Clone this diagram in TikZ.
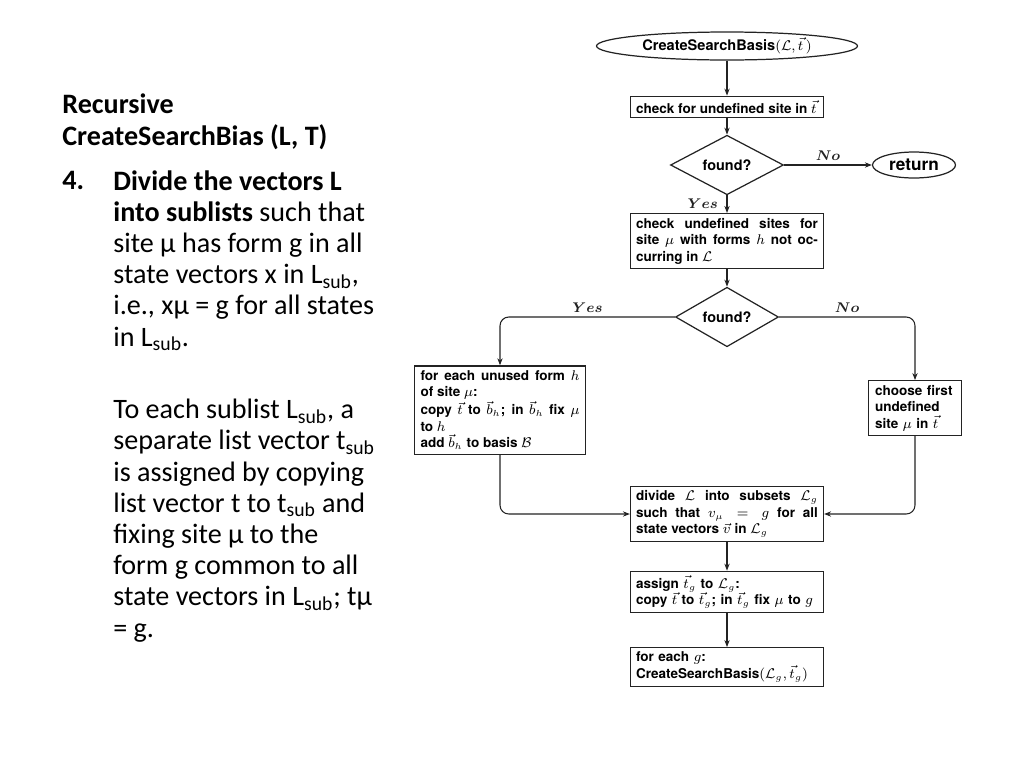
\documentclass[tikz,border=0pt]{standalone}
\usepackage{amsmath, amssymb}
\usepackage{bm}
\usepackage{fontspec}
\newfontfamily\slidefont{Carlito}
\newfontfamily\flowfont{TeX Gyre Heros}
\usepackage{tikz}
\usetikzlibrary{arrows.meta, positioning, shapes.geometric}
\usepackage{xcolor}
\definecolor{linegray}{RGB}{35,35,35}

\begin{document}
\begin{tikzpicture}[x=0.02cm, y=-0.02cm,
  box/.style={rectangle, draw=linegray, line width=0.7pt, text width=3.64cm,
              inner xsep=0.11cm, inner ysep=2.5pt, align=justify,
              font=\flowfont\bfseries\fontsize{7.7}{9.4}\selectfont},
  term/.style={ellipse, draw=linegray, line width=0.7pt, inner sep=0pt,
               font=\flowfont\bfseries\fontsize{8.3}{10}\selectfont},
  test/.style={diamond, draw=linegray, line width=0.7pt, inner sep=0pt,
               font=\flowfont\bfseries\fontsize{8.2}{10}\selectfont},
  arrow/.style={-{Stealth[length=4pt, width=3pt]}, linegray, line width=0.6pt},
  answer/.style={font=\fontsize{8.5}{10}\selectfont, inner sep=2pt},
  slide/.style={font=\slidefont\fontsize{16}{17.75}\selectfont,
                inner sep=0pt, align=left}
]
\useasboundingbox (0,0) rectangle (1024,768);

% left column: slide text (base anchor = last line)
\node[slide, anchor=base west] (title) at (62,145)
  {\bfseries Recursive\\\bfseries CreateSearchBias (L, T)};
\node[slide, anchor=base west] (num) at (62,189) {\bfseries 4.};
\node[slide, anchor=base west] (item) at (113,637)
  {\textbf{Divide the vectors L}\\
   \textbf{into sublists} such that\\
   site µ has form g in all\\
   state vectors x in L\textsubscript{sub},\\
   i.e., xµ = g for all states\\
   in L\textsubscript{sub}.\\[0.83cm]
   To each sublist L\textsubscript{sub}, a\\
   separate list vector t\textsubscript{sub}\\
   is assigned by copying\\
   list vector t to t\textsubscript{sub} and\\
   fixing site µ to the\\
   form g common to all\\
   state vectors in L\textsubscript{sub}; tµ\\
   = g.};

% main column of the flowchart
\node[term, minimum width=5.22cm, minimum height=0.56cm] (start) at (727,46)
  {CreateSearchBasis$(\mathcal{L},\vec{t}\,)$};
\node[box] (chk1) at (727,107) {check for undefined site in $\vec{t}$};
\node[test, minimum width=2.26cm, minimum height=0.70cm] (found1) at (727,165) {found?};
\node[term, minimum width=1.66cm, minimum height=0.52cm,
      font=\flowfont\bfseries\fontsize{9.8}{11}\selectfont] (ret) at (914,165) {return};
\node[box] (chk2) at (727,241)
  {check undefined sites for\linebreak site $\mu$ with forms $h$ not oc-\linebreak curring in $\mathcal{L}$};
\node[test, minimum width=2.06cm, minimum height=0.62cm] (found2) at (727,317) {found?};

% side branches
\node[box, text width=3.18cm, inner xsep=0.12cm] (each) at (500,410)
  {for each unused form $h$\linebreak of site $\mu$:\\
   copy $\vec{t}$ to $\vec{b}_h$; in $\vec{b}_h$ fix $\mu$\linebreak to $h$\\
   add $\vec{b}_h$ to basis $\mathcal{B}$};
\node[box, text width=1.6cm, inner xsep=0.13cm, align=left] (pick) at (915,408)
  {choose first\\undefined\\site $\mu$ in $\vec{t}$};

% lower part
\node[box] (split) at (727,514)
  {divide $\mathcal{L}$ into subsets $\mathcal{L}_g$\linebreak such that $v_\mu = g$ for all\linebreak state vectors $\vec{v}$ in $\mathcal{L}_g$};
\node[box, align=left] (assign) at (727,592)
  {assign $\vec{t}_g$ to $\mathcal{L}_g$:\\copy $\vec{t}$ to $\vec{t}_g$; in $\vec{t}_g$ fix $\mu$ to $g$};
\node[box, align=left] (recur) at (727,667)
  {for each $g$:\\CreateSearchBasis$(\mathcal{L}_g,\vec{t}_g)$};

% arrows
\draw[arrow] (start) -- (chk1);
\draw[arrow] (chk1) -- (found1);
\draw[arrow] (found1) -- node[answer, above]{$\bm{No}$} (ret);
\draw[arrow] (found1) -- node[answer, left, inner xsep=5pt]{$\bm{Yes}$} (chk2);
\draw[arrow] (chk2) -- (found2);
\draw[arrow, rounded corners=5pt] (found2) -| node[answer, above, pos=0.25]{$\bm{Yes}$} (each);
\draw[arrow, rounded corners=5pt] (found2) -| node[answer, above, pos=0.25]{$\bm{No}$} (pick);
\draw[arrow, rounded corners=5pt] (each) |- (split);
\draw[arrow, rounded corners=5pt] (pick) |- (split);
\draw[arrow] (split) -- (assign);
\draw[arrow] (assign) -- (recur);

\end{tikzpicture}
\end{document}
